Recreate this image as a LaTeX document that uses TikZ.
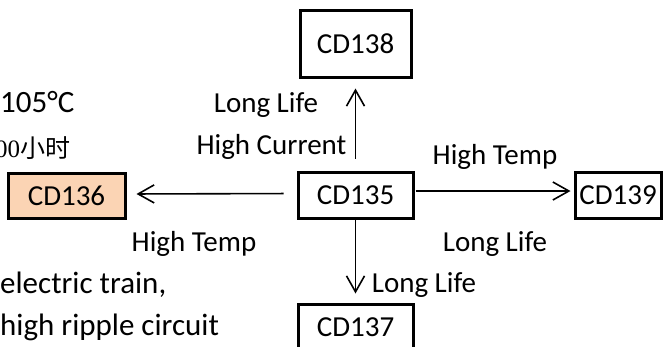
\documentclass[tikz,border=0pt]{standalone}
\usepackage{fontspec}
\setmainfont{Carlito}
\newfontfamily\cjkfont{Noto Sans CJK SC}
\newfontfamily\numserif{Liberation Serif}
\usetikzlibrary{arrows.meta}
\definecolor{peach}{HTML}{FBD4B4}
\tikzset{
  cdbox/.style={draw=black, line width=3pt, inner sep=0pt, font=\fontsize{29}{34}\selectfont},
  lbl/.style={inner sep=0pt, anchor=base, font=\fontsize{29}{34}\selectfont},
  lblw/.style={inner sep=0pt, anchor=base west, font=\fontsize{31}{36}\selectfont},
  arr/.style={line width=1.6pt, -{Straight Barb[length=16pt,width=18pt,line width=1.6pt]}}
}
\begin{document}
\begin{tikzpicture}[x=1pt,y=-1pt]
\useasboundingbox (0,0) rectangle (664,346);
\clip (0,0) rectangle (664,346);
% boxes
\node[cdbox, minimum width=111pt, minimum height=67pt] (c138) at (355.5,43.5) {CD138};
\node[cdbox, minimum width=115pt, minimum height=46pt] (c135) at (355.5,195) {CD135};
\node[cdbox, minimum width=115pt, minimum height=46pt] (c137) at (355.5,327) {CD137};
\node[cdbox, fill=peach, minimum width=117pt, minimum height=45pt] (c136) at (66.5,195.5) {CD136};
\node[cdbox, minimum width=86pt, minimum height=46pt] (c139) at (618,195) {CD139};
% arrows
\draw[arr, shorten <=12pt, shorten >=10pt] (c135.north) -- (c138.south);
\draw[arr, shorten >=9pt] (c135.south) -- (c137.north);
\draw[arr, shorten <=13pt, shorten >=10pt] ([yshift=1.5pt]c135.west) -- ([yshift=1.5pt]c136.east);
\draw[arr, shorten <=1pt, shorten >=3pt] ([yshift=4pt]c135.east) -- ([yshift=4pt]c139.west);
% edge labels
\node[lbl] (ll1) at (266,112) {Long Life};
\node[lbl] (hc) at (271.5,154) {High Current};
\node[lbl] (ht1) at (495,164) {High Temp};
\node[lbl] (ht2) at (194,251) {High Temp};
\node[lbl] (ll2) at (495,251) {Long Life};
\node[lbl] (ll3) at (424,292) {Long Life};
% side notes
\node[lblw] (t105) at (0,112) {105°C};
\node[inner sep=0pt, anchor=base west, font=\fontsize{25}{29}\selectfont] (tcn) at (-5,157) {{\numserif 00}{\cjkfont 小时}};
\node[lblw] (et) at (0,293) {electric train,};
\node[lblw] (hr) at (0,335) {high ripple circuit};
\end{tikzpicture}
\end{document}
